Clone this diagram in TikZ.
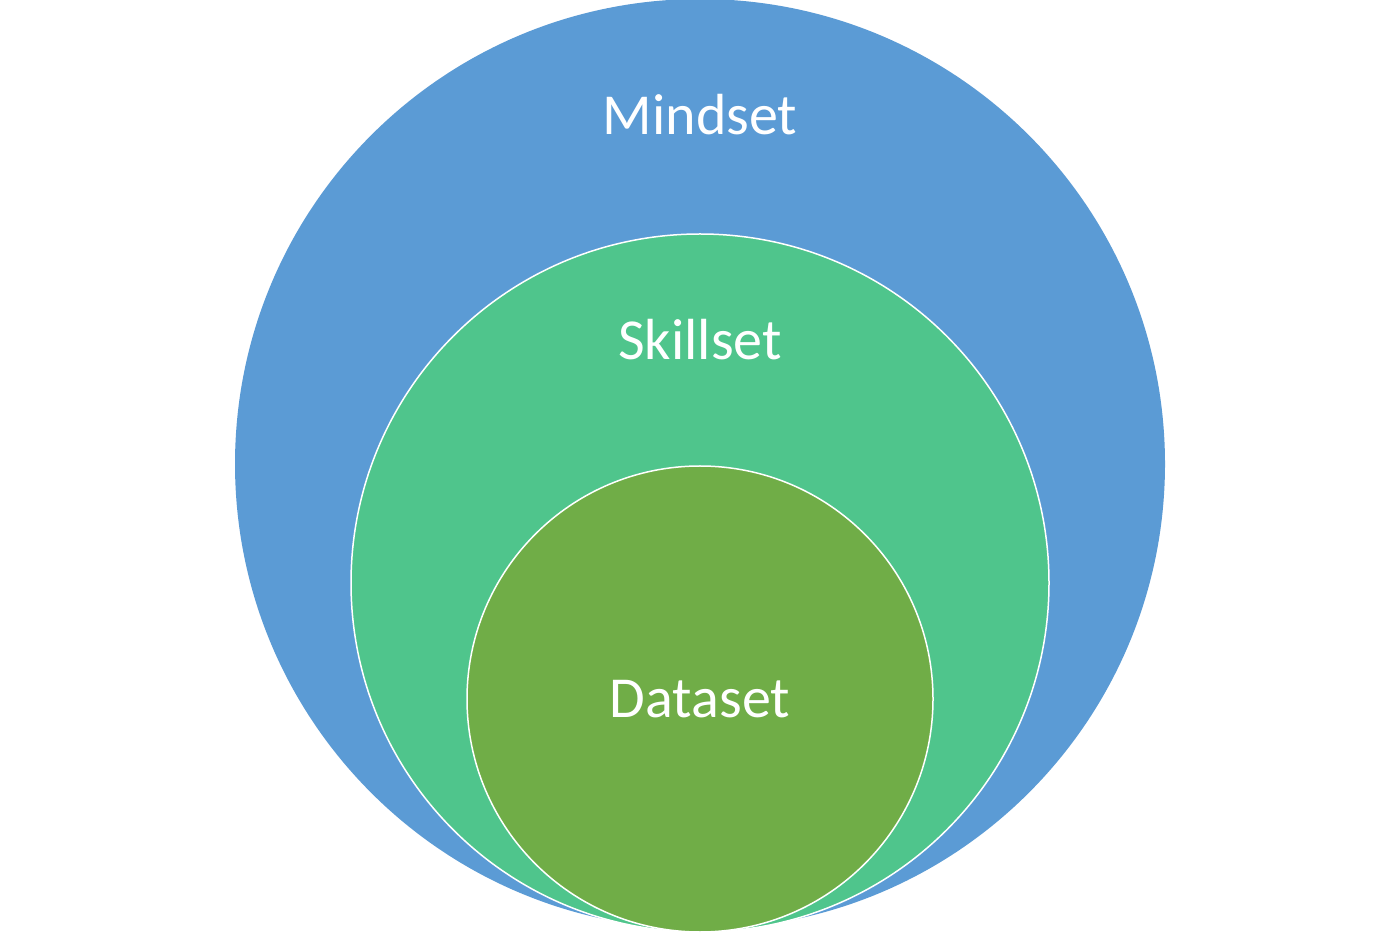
\documentclass[tikz,border=0pt]{standalone}
\usepackage{fontspec}
\setmainfont{Carlito}
\definecolor{cblue}{HTML}{5B9BD5}
\definecolor{cgreen}{HTML}{4FC58C}
\definecolor{cleaf}{HTML}{70AD47}
\begin{document}
\begin{tikzpicture}[x=1pt,y=1pt,
  ring/.style={draw=white,line width=1.5pt},
  lbl/.style={text=white,font=\fontsize{58}{60}\selectfont,anchor=base,inner sep=0pt}]
\useasboundingbox[fill=white] (0,0) rectangle (1400,935);
\fill[cblue] (700,471) circle[radius=465];
\filldraw[ring,fill=cgreen] (700,352) circle[radius=349];
\filldraw[ring,fill=cleaf] (700,236) circle[radius=233];
\node[lbl] (mind) at (700,800) {Mindset};
\node[lbl] (skill) at (700,575) {Skillset};
\node[lbl] (data) at (700,218) {Dataset};
\end{tikzpicture}
\end{document}
